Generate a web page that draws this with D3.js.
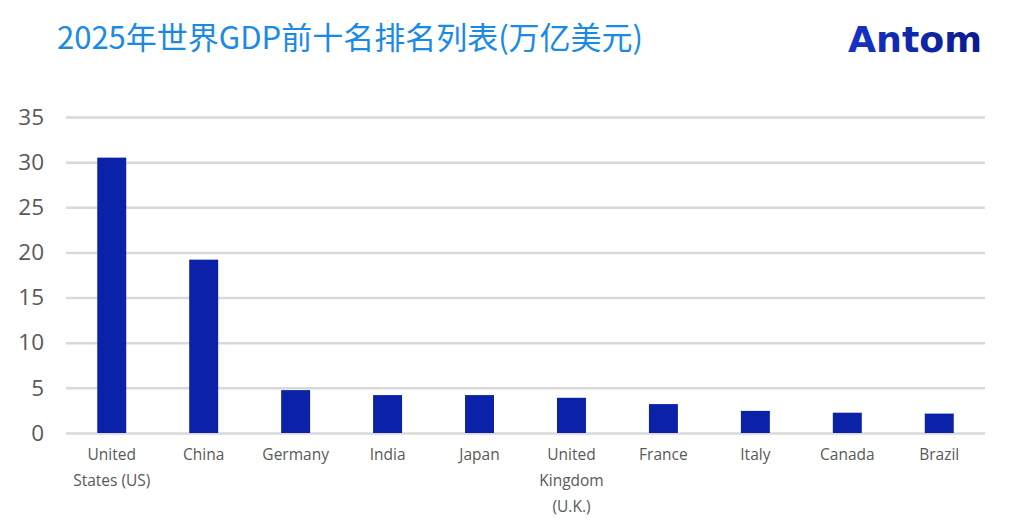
<!DOCTYPE html>
<html>
<head>
<meta charset="utf-8">
<script src="https://cdn.jsdelivr.net/npm/d3@7"></script>
<style>
  html, body { margin: 0; padding: 0; background: #fff; }
  svg { display: block; }
</style>
</head>
<body>
<svg id="chart"></svg>
<script>
// GDP 2025, trillions USD
const countries = ["United States (US)", "China", "Germany", "India", "Japan",
                   "United Kingdom (U.K.)", "France", "Italy", "Canada", "Brazil"];
const gdp = [30.5, 19.2, 4.75, 4.2, 4.2, 3.9, 3.2, 2.45, 2.25, 2.15];
const yTicks = [0, 5, 10, 15, 20, 25, 30, 35];
const title = "2025年世界GDP前十名排名列表(万亿美元)";

const width = 1017, height = 528;
const margin = { top: 117, right: 32, bottom: 95, left: 66 };

const svg = d3.select("#chart").attr("width", width).attr("height", height);

const x = d3.scaleBand().domain(countries)
  .range([margin.left, width - margin.right])
  .paddingInner(0.685).paddingOuter(0.34);
const y = d3.scaleLinear().domain([0, 35]).range([height - margin.bottom, margin.top]);

// gridlines
svg.append("g")
  .call(d3.axisLeft(y).tickValues(yTicks).tickSize(-(width - margin.left - margin.right)).tickFormat(""))
  .attr("transform", `translate(${margin.left},0)`)
  .call(g => g.select(".domain").remove())
  .call(g => g.selectAll("line").attr("stroke", "#d9d9d9").attr("stroke-width", 2.5));

// y labels
svg.append("g")
  .attr("transform", `translate(${margin.left},0)`)
  .call(d3.axisLeft(y).tickValues(yTicks).tickSize(0).tickPadding(22))
  .call(g => g.select(".domain").remove())
  .call(g => g.selectAll("text")
    .attr("fill", "#595959")
    .style("font-family", "'Open Sans', 'Noto Sans', sans-serif")
    .style("font-size", "22.5px"));

// bars
svg.append("g").selectAll("rect")
  .data(gdp)
  .join("rect")
  .attr("x", (d, i) => x(countries[i]))
  .attr("width", x.bandwidth())
  .attr("y", d => y(d))
  .attr("height", d => y(0) - y(d))
  .attr("fill", "#0b22a8");

// x labels with wrapping
const xl = svg.append("g")
  .attr("transform", `translate(0,${y(0)})`)
  .call(d3.axisBottom(x).tickSize(0).tickPadding(0))
  .call(g => g.select(".domain").remove());
xl.selectAll("text")
  .attr("fill", "#595959")
  .style("font-family", "'Open Sans', 'Noto Sans', sans-serif")
  .style("font-size", "15.5px")
  .each(function(d) { wrap(d3.select(this), d, 86); });

function wrap(text, label, maxW) {
  const words = label.split(" ");
  text.text(null);
  let line = [];
  let lineNo = 0;
  let tspan = text.append("tspan").attr("x", 0).attr("y", 27);
  words.forEach(w => {
    line.push(w);
    tspan.text(line.join(" "));
    if (tspan.node().getComputedTextLength() > maxW && line.length > 1) {
      line.pop();
      tspan.text(line.join(" "));
      line = [w];
      lineNo++;
      tspan = text.append("tspan").attr("x", 0).attr("y", 27 + lineNo * 26).text(w);
    }
  });
  text.attr("dy", null);
}

// title
svg.append("text")
  .attr("x", 57).attr("y", 49)
  .attr("fill", "#1a8ae6")
  .style("font-family", "'Noto Sans CJK SC', sans-serif")
  .style("font-size", "31px")
  .text(title);

// logo
const grad = svg.append("defs").append("linearGradient").attr("id", "logoGrad")
  .attr("x1", "0").attr("x2", "1");
grad.append("stop").attr("offset", "0").attr("stop-color", "#1533c8");
grad.append("stop").attr("offset", "1").attr("stop-color", "#0a1c8c");
svg.append("text")
  .attr("x", 848).attr("y", 52)
  .attr("fill", "url(#logoGrad)")
  .style("font-family", "'DejaVu Sans', sans-serif")
  .style("font-weight", "bold")
  .style("font-size", "35px")
  .attr("textLength", 134)
  .attr("lengthAdjust", "spacingAndGlyphs")
  .text("Antom");
</script>
</body>
</html>
